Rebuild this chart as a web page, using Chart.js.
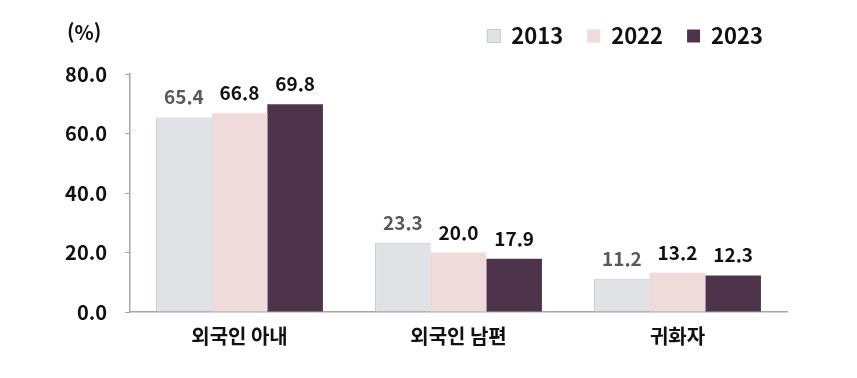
<!DOCTYPE html>
<html lang="ko">
<head>
    <meta charset="UTF-8">
    <title>외국인 배우자 유형별 비율</title>
    <script src="https://cdn.jsdelivr.net/npm/chart.js@4.4.1/dist/chart.umd.min.js"></script>
    <style>
        html, body {
            margin: 0;
            padding: 0;
            background: #ffffff;
        }
        .chart-box {
            position: relative;
            width: 857px;
            height: 378px;
        }
    </style>
</head>
<body>
    <div class="chart-box">
        <canvas id="spouseChart"></canvas>
    </div>

    <script>
        const FONT = "'Noto Sans CJK KR', 'Noto Sans', sans-serif";

        // 데이터
        const categories = ['외국인 아내', '외국인 남편', '귀화자'];
        const years = ['2013', '2022', '2023'];
        const values2013 = [65.4, 23.3, 11.2];
        const values2022 = [66.8, 20.0, 13.2];
        const values2023 = [69.8, 17.9, 12.3];
        const yTicks = [0, 20, 40, 60, 80];

        const fills = ['#e1e2e6', '#f0dbdb', '#4e344b'];
        const borders = ['#c6c7cb', '#e8d0d0', '#4e344b'];
        const labelColors = ['#595959', '#111111', '#111111'];

        // 범례 아래 여백 추가
        const legendGap = {
            id: 'legendGap',
            beforeInit(chart) {
                const origFit = chart.legend.fit;
                chart.legend.fit = function () {
                    origFit.bind(chart.legend)();
                    this.height += 17;
                };
            }
        };

        // 막대 위 값 표시
        const valueLabels = {
            id: 'valueLabels',
            afterDatasetsDraw(chart) {
                const ctx = chart.ctx;
                ctx.save();
                ctx.font = `bold 19px ${FONT}`;
                ctx.textAlign = 'center';
                ctx.textBaseline = 'alphabetic';
                chart.data.datasets.forEach((ds, i) => {
                    ctx.fillStyle = labelColors[i];
                    chart.getDatasetMeta(i).data.forEach((bar, j) => {
                        ctx.fillText(ds.data[j].toFixed(1), bar.x, bar.y - 13);
                    });
                });
                ctx.restore();
            }
        };

        // (%) 단위 표시
        const unitLabel = {
            id: 'unitLabel',
            afterDraw(chart) {
                const ctx = chart.ctx;
                ctx.save();
                ctx.font = `bold 20px ${FONT}`;
                ctx.fillStyle = '#111111';
                ctx.textAlign = 'left';
                ctx.textBaseline = 'middle';
                ctx.fillText('(%)', 67, 32);
                ctx.restore();
            }
        };

        new Chart(document.getElementById('spouseChart'), {
            type: 'bar',
            data: {
                labels: categories,
                datasets: [values2013, values2022, values2023].map((vals, i) => ({
                    label: years[i],
                    data: vals,
                    backgroundColor: fills[i],
                    borderColor: borders[i],
                    borderWidth: i === 0 ? 1 : 0,
                    barPercentage: 1,
                    categoryPercentage: 0.762
                }))
            },
            options: {
                responsive: true,
                maintainAspectRatio: false,
                animation: false,
                layout: {
                    padding: { top: 1, right: 70, left: 0, bottom: 0 }
                },
                plugins: {
                    legend: {
                        position: 'top',
                        align: 'end',
                        labels: {
                            boxWidth: 13,
                            boxHeight: 13,
                            padding: 24,
                            color: '#111111',
                            font: { family: FONT, size: 22, weight: 'bold' }
                        }
                    },
                    tooltip: { enabled: false }
                },
                scales: {
                    x: {
                        grid: { display: false },
                        border: { display: true, color: '#a6a6a6', width: 1.5 },
                        ticks: {
                            color: '#111111',
                            padding: 4,
                            font: { family: FONT, size: 20, weight: 'bold' }
                        },
                        afterFit(scale) { scale.height = 66; }
                    },
                    y: {
                        min: 0,
                        max: 80,
                        afterBuildTicks(scale) {
                            scale.ticks = yTicks.map(v => ({ value: v }));
                        },
                        grid: {
                            drawOnChartArea: false,
                            drawTicks: true,
                            tickLength: 5,
                            color: '#a6a6a6'
                        },
                        border: { display: true, color: '#a6a6a6', width: 1.5 },
                        ticks: {
                            color: '#111111',
                            padding: 18,
                            font: { family: FONT, size: 20, weight: 'bold' },
                            callback: v => v.toFixed(1)
                        },
                        afterFit(scale) { scale.width = 130; }
                    }
                }
            },
            plugins: [legendGap, valueLabels, unitLabel]
        });
    </script>
</body>
</html>
